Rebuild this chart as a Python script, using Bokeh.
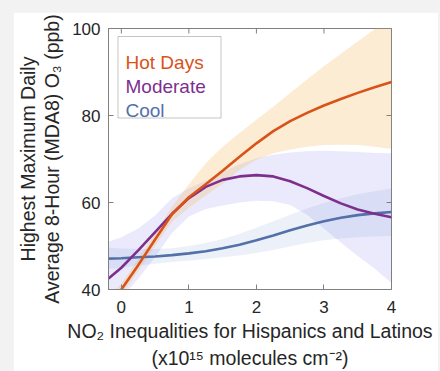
import math
from bokeh.plotting import figure
from bokeh.models import Range1d, LinearAxis, FixedTicker, Label, BoxAnnotation
from bokeh.layouts import column
from bokeh.embed import file_html
from bokeh.resources import INLINE

# ---------------- data ----------------
x = [-0.19, 0, 0.25, 0.5, 0.75, 1, 1.25, 1.5, 1.75, 2, 2.25, 2.5, 2.75, 3, 3.25, 3.5, 3.75, 4]

hot = [36.5, 40, 45.6, 51.5, 57.3, 61.2, 64.2, 67.3, 70.5, 73.6, 76.4, 78.7, 80.6, 82.3, 83.8, 85.2, 86.5, 87.7]
hot_up = [38.3, 41.3, 47.0, 53.0, 59.0, 64.2, 69.0, 72.8, 76.0, 79.0, 82.0, 85.2, 88.3, 91.3, 94.2, 97.0, 99.8, 102.5]
hot_lo = [34.5, 38.7, 44.2, 50.0, 55.6, 58.8, 61.6, 64.3, 67.5, 69.8, 71.3, 72.2, 72.8, 73.2, 73.3, 73.2, 72.8, 72.3]

mod = [42.5, 45.0, 49.0, 53.2, 57.4, 61.0, 63.6, 65.2, 66.0, 66.3, 66.0, 64.9, 63.3, 61.5, 59.8, 58.4, 57.4, 56.6]
mod_up = [51.0, 52.0, 54.0, 57.0, 61.0, 63.3, 65.0, 67.0, 68.8, 70.2, 71.0, 71.5, 71.8, 71.9, 71.8, 71.6, 71.4, 71.3]
mod_lo = [35.0, 38.0, 42.5, 47.5, 53.0, 56.8, 58.5, 59.3, 60.0, 60.4, 60.3, 59.4, 57.2, 54.0, 50.8, 47.7, 44.8, 41.5]

cool = [47.1, 47.2, 47.4, 47.6, 47.9, 48.3, 48.8, 49.5, 50.3, 51.3, 52.4, 53.6, 54.7, 55.7, 56.5, 57.1, 57.5, 57.8]
cool_up = [49.6, 49.4, 49.3, 49.3, 49.5, 50.0, 50.7, 51.6, 52.8, 54.2, 55.7, 57.2, 58.6, 59.9, 61.0, 61.9, 62.6, 63.2]
cool_lo = [44.7, 45.0, 45.5, 45.9, 46.3, 46.6, 47.0, 47.4, 47.8, 48.4, 49.1, 49.9, 50.7, 51.3, 51.7, 52.0, 52.2, 52.3]

x_ticks = [0, 1, 2, 3, 4]
y_ticks = [40, 60, 80, 100]
series_names = ["Hot Days", "Moderate", "Cool"]
y_label_1 = "Highest Maximum Daily"
y_label_2 = "Average 8-Hour (MDA8) O\u2083 (ppb)"
x_label_1 = "NO\u2082 Inequalities for Hispanics and Latinos"
x_label_2 = "(x10\u00b9\u2075 molecules cm\u207b\u00b2)"

# ---------------- styles ----------------
FONT = "Liberation Sans"
TXT = "#262626"
AX = "#808080"
C_HOT, C_MOD, C_COOL = "#D95319", "#7E2F8E", "#5470A8"

X0, X1, Y0, Y1 = -0.19, 4.0, 40, 100

p = figure(width=425, height=359, x_range=Range1d(X0, X1), y_range=Range1d(Y0, Y1),
           output_backend="svg", toolbar_location=None,
           min_border_left=95, min_border_right=47, min_border_top=16, min_border_bottom=82,
           border_fill_color="white", background_fill_color="white",
           outline_line_color=AX, outline_line_width=1)
p.margin = (12, 2, 0, 13)
p.grid.visible = False

# bands
p.varea(x=x, y1=cool_lo, y2=cool_up, fill_color="#4472C4", fill_alpha=0.1)
p.varea(x=x, y1=mod_lo, y2=mod_up, fill_color="#3030E0", fill_alpha=0.1)
p.varea(x=x, y1=hot_lo, y2=hot_up, fill_color="#F5B352", fill_alpha=0.25)

# lines
p.line(x, cool, line_color=C_COOL, line_width=2.6)
p.line(x, mod, line_color=C_MOD, line_width=2.6)
p.line(x, hot, line_color=C_HOT, line_width=2.6)

# top / right inner ticks (half of each dash is clipped by the frame)
p.scatter(x=x_ticks, y=[Y1] * len(x_ticks), marker="dash", angle=math.pi / 2, size=10,
          line_color=AX, line_width=1)
p.scatter(x=[X1] * len(y_ticks), y=y_ticks, marker="dash", size=10, line_color=AX, line_width=1)

# axes
def style_axis(ax, ticks):
    ax.ticker = FixedTicker(ticks=ticks)
    ax.axis_line_color = AX
    ax.axis_line_width = 1
    ax.major_tick_line_color = AX
    ax.major_tick_in = 5
    ax.major_tick_out = 0
    ax.minor_tick_in = 0
    ax.minor_tick_out = 0
    ax.minor_tick_line_color = None
    ax.major_label_text_font = FONT
    ax.major_label_text_color = TXT
    ax.major_label_text_font_size = "17px"
    ax.axis_label_text_font = FONT
    ax.axis_label_text_font_style = "normal"
    ax.axis_label_text_color = TXT
    ax.axis_label_text_font_size = "19.5px"

def label_axis(label, standoff):
    ax = LinearAxis(ticker=FixedTicker(ticks=[]), axis_line_color=None,
                    major_tick_line_color=None, minor_tick_line_color=None,
                    major_tick_in=0, major_tick_out=0, minor_tick_in=0, minor_tick_out=0,
                    major_label_standoff=0, axis_label=label, axis_label_standoff=standoff,
                    axis_label_text_font=FONT, axis_label_text_font_style="normal",
                    axis_label_text_color=TXT, axis_label_text_font_size="19.5px")
    return ax

xa = p.xaxis[0]
ya = p.yaxis[0]
style_axis(xa, x_ticks)
style_axis(ya, y_ticks)
xa.major_label_standoff = 11
ya.major_label_standoff = 8
ya.axis_label = y_label_2
ya.axis_label_standoff = 6
xa.axis_label = x_label_1
xa.axis_label_standoff = 4

p.add_layout(label_axis(y_label_1, 0), "left")
p.add_layout(label_axis(x_label_2, 2), "below")

# legend
LPX = 67.54   # px per x unit
LPY = 4.35    # px per y unit
FL, FB = 108, 289  # frame left / bottom in page px

def dx(px):
    return X0 + (px - FL) / LPX

def dy(py):
    return Y0 + (FB - py) / LPY

p.add_layout(BoxAnnotation(left=dx(117.5), right=dx(220.5), top=dy(36), bottom=dy(117.5),
                           fill_color="white", fill_alpha=1.0,
                           line_color="#3a3a3a", line_width=1, level="annotation"))

for name, col, by in zip(series_names, [C_HOT, C_MOD, C_COOL], [61.7, 85.5, 110]):
    p.add_layout(Label(x=X0, y=Y0, x_offset=125 - FL, y_offset=FB - by, text=name,
                       text_font=FONT, text_font_size="19px", text_color=col,
                       text_align="left", text_baseline="alphabetic"))

layout = column(p, width=440, height=371, styles={"background-color": "#f2f2f2"})

open("out.html", "w").write(file_html(layout, INLINE))
